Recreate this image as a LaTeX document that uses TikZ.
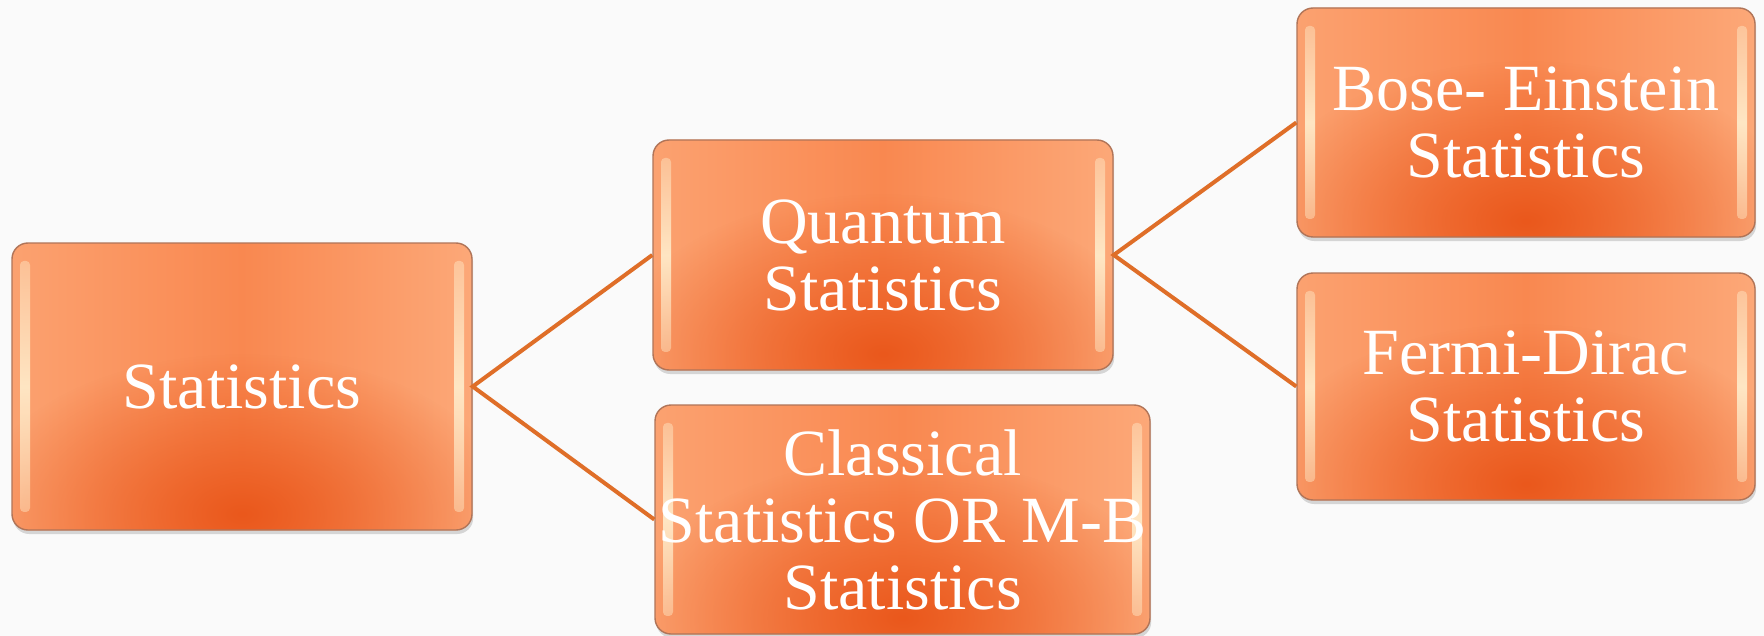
\documentclass[tikz,border=0pt]{standalone}
\usepackage{fontspec}
\setmainfont{Liberation Serif}
\usetikzlibrary{calc,fadings,shadows}
\definecolor{olight}{HTML}{FCA878}
\definecolor{omid}{HTML}{F98850}
\definecolor{odark}{HTML}{EA581C}
\definecolor{cream}{HTML}{FFF2D2}
\definecolor{edgec}{HTML}{B07458}
\definecolor{linkc}{HTML}{DF6E28}
\definecolor{bgc}{HTML}{FAFAFA}
\tikzfading[name=radfade, inner color=transparent!0, outer color=transparent!100]
\tikzfading[name=stripfade, top color=transparent!60, bottom color=transparent!60, middle color=transparent!15]
\tikzset{
  obox/.style={rectangle, rounded corners=8pt, draw=edgec, line width=0.7pt,
    fill=omid, text=white, align=center, inner sep=0pt,
    font=\fontsize{33}{33.5}\selectfont,
    drop shadow={shadow xshift=0.6pt, shadow yshift=-2pt, opacity=0.3},
    path picture={
      \shade[left color=olight!80!omid, right color=olight, middle color=omid]
        (path picture bounding box.south west) rectangle (path picture bounding box.north east);
      \fill[odark, path fading=radfade]
        ($(path picture bounding box.south)+(0,8pt)$) ellipse [x radius=135pt, y radius=80pt];
      \fill[cream, path fading=stripfade, rounded corners=2pt]
        ($(path picture bounding box.south west)+(4pt,9pt)$) rectangle
        ($(path picture bounding box.north west)+(9pt,-9pt)$);
      \fill[cream, path fading=stripfade, rounded corners=2pt]
        ($(path picture bounding box.south east)+(-9pt,9pt)$) rectangle
        ($(path picture bounding box.north east)+(-4pt,-9pt)$);
    }},
  link/.style={draw=linkc, line width=2pt}
}
\begin{document}
\begin{tikzpicture}[x=0.5pt,y=-0.5pt]
\fill[bgc] (0,0) rectangle (1764,636);
\useasboundingbox (0,0) rectangle (1764,636);
\node[obox, minimum width=230pt, minimum height=143.5pt] (stat) at (242,386.5) {Statistics};
\node[obox, minimum width=230pt, minimum height=115pt] (quant) at (883,255) {Quantum\\Statistics};
\node[obox, minimum width=247.5pt, minimum height=114.5pt] (class) at (902.5,519.5) {Classical\\Statistics OR M-B\\Statistics};
\node[obox, minimum width=229pt, minimum height=114.5pt] (bose) at (1526,122.5) {Bose- Einstein\\Statistics};
\node[obox, minimum width=229pt, minimum height=113.5pt] (fermi) at (1526,386.5) {Fermi-Dirac\\Statistics};
\draw[link] (quant.west) -- (stat.east) -- (class.west);
\draw[link] (bose.west) -- (quant.east) -- (fermi.west);
\end{tikzpicture}
\end{document}
